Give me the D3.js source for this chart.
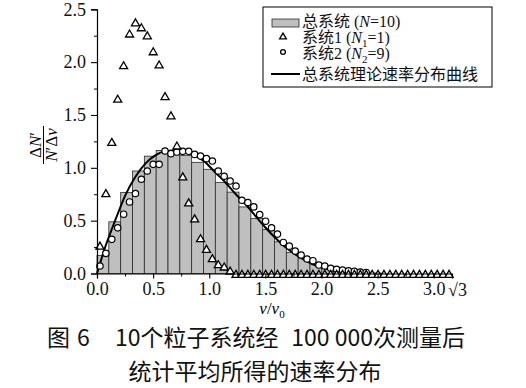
<!DOCTYPE html>
<html>
<head>
<meta charset="utf-8">
<script src="https://cdn.jsdelivr.net/npm/d3@7"></script>
<style>
  body { margin: 0; background: #fff; }
  svg { display: block; }
</style>
</head>
<body>
<svg id="chart" width="526" height="388"></svg>
<script>
// 30 histogram bins over [0, sqrt(10)] for the whole system (N=10)
const barVals = [0.17, 0.489, 0.766, 0.97, 1.11, 1.165, 1.16, 1.118, 1.052, 0.986,
  0.862, 0.77, 0.63, 0.52, 0.417, 0.30, 0.2, 0.148, 0.09, 0.054,
  0.033, 0.02, 0.011, 0.005, 0, 0, 0, 0, 0, 0];

// 60 finer bins: system 1 (triangles)
const sys1Vals = [0.253, 0.75, 1.234, 1.643, 1.96, 2.26, 2.366, 2.319, 2.243, 2.092,
  1.967, 1.668, 1.486, 1.2, 0.908, 0.662, 0.511, 0.323, 0.222, 0.134,
  0.077, 0.055, 0.017, 0, 0, 0, 0, 0, 0, 0,
  0, 0, 0, 0, 0, 0, 0, 0, 0, 0,
  0, 0, 0, 0, 0, 0, 0, 0, 0, 0,
  0, 0, 0, 0, 0, 0, 0, 0, 0, 0];

// system 2 (circles)
const sys2Vals = [0.071, 0.19, 0.323, 0.432, 0.561, 0.677, 0.757, 0.892, 0.97, 1.033,
  1.033, 1.159, 1.134, 1.149, 1.156, 1.156, 1.127, 1.111, 1.087, 1.064,
  0.97, 0.92, 0.875, 0.828, 0.693, 0.672, 0.63, 0.558, 0.495, 0.432,
  0.373, 0.294, 0.259, 0.212, 0.175, 0.137, 0.121, 0.08, 0.071, 0.049,
  0.04, 0.033, 0.026, 0.02, 0.014, 0.01];

// theoretical curve
const curveV = [0, 0.074, 0.163, 0.252, 0.341, 0.43, 0.519, 0.608, 0.697, 0.78,
  0.873, 0.962, 1.05, 1.14, 1.23, 1.318, 1.407, 1.496, 1.585, 1.674,
  1.763, 1.852, 1.94, 2.03, 2.12, 2.21, 2.3, 2.4];
const curveY = [0, 0.253, 0.505, 0.74, 0.913, 1.04, 1.118, 1.158, 1.165, 1.156,
  1.118, 1.055, 0.96, 0.866, 0.757, 0.662, 0.55, 0.44, 0.34, 0.253,
  0.184, 0.127, 0.08, 0.049, 0.026, 0.01, 0.003, 0];

const xTicks = [0, 0.5, 1.0, 1.5, 2.0, 2.5, 3.0];
const yTicks = [0, 0.5, 1.0, 1.5, 2.0, 2.5];
const vMax = Math.sqrt(10);

const serif = "'Liberation Serif', 'Times New Roman', serif";
const svg = d3.select("#chart");
const x = d3.scaleLinear().domain([0, vMax]).range([97, 452]);
const y = d3.scaleLinear().domain([0, 2.5]).range([273.5, 9.3]);

const barW = vMax / barVals.length;
const ptW = vMax / sys1Vals.length;

// bars
svg.append("g")
  .selectAll("rect")
  .data(barVals)
  .enter()
  .append("rect")
  .attr("x", (d, i) => x(i * barW))
  .attr("width", (d, i) => x((i + 1) * barW) - x(i * barW))
  .attr("y", d => y(d))
  .attr("height", d => y(0) - y(d))
  .attr("fill", "#bfbfbf")
  .attr("stroke", "#2a2a2a")
  .attr("stroke-width", 0.8);

// theory curve
const line = d3.line()
  .x((d, i) => x(curveV[i]))
  .y(d => y(d))
  .curve(d3.curveMonotoneX);
svg.append("path")
  .datum(curveY)
  .attr("d", line)
  .attr("fill", "none")
  .attr("stroke", "#000")
  .attr("stroke-width", 2);

// system 2 circles
svg.append("g")
  .selectAll("circle")
  .data(sys2Vals)
  .enter()
  .append("circle")
  .attr("cx", (d, i) => x((i + 0.5) * ptW))
  .attr("cy", d => y(d))
  .attr("r", 3.2)
  .attr("fill", "#fff")
  .attr("stroke", "#000")
  .attr("stroke-width", 1.2);

// system 1 triangles
const tri = d3.symbol(d3.symbolTriangle).size(28);
svg.append("g")
  .selectAll("path")
  .data(sys1Vals)
  .enter()
  .append("path")
  .attr("d", tri)
  .attr("transform", (d, i) => `translate(${x((i + 0.5) * ptW)},${d > 0 ? y(d) : y(0) + 1.5})`)
  .attr("fill", "#fff")
  .attr("stroke", "#000")
  .attr("stroke-width", 1.3);

// axes
const fmt = d3.format(".1f");
function styleAxis(g) {
  g.select(".domain").attr("stroke", "#000").attr("stroke-width", 1.2);
  g.selectAll(".tick line").attr("stroke", "#000").attr("stroke-width", 1.1);
  g.selectAll(".tick text")
    .style("font-family", serif)
    .style("font-size", "18px")
    .attr("fill", "#111");
}
svg.append("g")
  .attr("transform", `translate(${x(0)},0)`)
  .call(d3.axisLeft(y).tickValues(yTicks).tickSize(6).tickPadding(5).tickFormat(fmt))
  .call(styleAxis);
svg.append("g")
  .attr("transform", `translate(${x(0)},0)`)
  .call(d3.axisLeft(y).tickValues([0.25, 0.75, 1.25, 1.75, 2.25]).tickSize(3).tickFormat(""))
  .call(g => g.select(".domain").remove());

svg.append("g")
  .attr("transform", `translate(0,${y(0)})`)
  .call(d3.axisBottom(x).tickValues(xTicks).tickSize(5).tickPadding(4).tickFormat(fmt))
  .call(styleAxis);
svg.append("g")
  .attr("transform", `translate(0,${y(0)})`)
  .call(d3.axisBottom(x).tickValues([0.25, 0.75, 1.25, 1.75, 2.25, 2.75]).tickSize(3).tickFormat(""))
  .call(g => g.select(".domain").remove());

svg.append("text")
  .attr("x", 448)
  .attr("y", 296)
  .style("font-family", serif)
  .style("font-size", "18px")
  .attr("fill", "#111")
  .text("√3");

// axis titles
const xt = svg.append("text")
  .attr("x", 272)
  .attr("y", 314)
  .attr("text-anchor", "middle")
  .style("font-family", serif)
  .style("font-size", "17px");
xt.append("tspan").attr("font-style", "italic").text("v");
xt.append("tspan").text("/");
xt.append("tspan").attr("font-style", "italic").text("v");
xt.append("tspan").style("font-size", "11px").attr("dy", 4).text("0");

const yt = svg.append("g")
  .attr("transform", "translate(43.5,145) rotate(-90)")
  .style("font-family", serif)
  .style("font-size", "17px");
const num = yt.append("text").attr("text-anchor", "middle").attr("y", -3);
num.append("tspan").text("Δ");
num.append("tspan").attr("font-style", "italic").text("N");
num.append("tspan").text("′");
yt.append("line").attr("x1", -19).attr("x2", 19).attr("stroke", "#000").attr("stroke-width", 1);
const den = yt.append("text").attr("text-anchor", "middle").attr("y", 13);
den.append("tspan").attr("font-style", "italic").text("N");
den.append("tspan").text("′Δ");
den.append("tspan").attr("font-style", "italic").text("v");

// legend
const lg = svg.append("g")
  .style("font-family", serif + ", 'Noto Sans CJK SC'")
  .style("font-size", "16px")
  .attr("fill", "#111");
lg.append("rect")
  .attr("x", 263).attr("y", 7).attr("width", 229).attr("height", 80)
  .attr("fill", "#fff").attr("stroke", "#000").attr("stroke-width", 1);
lg.append("rect")
  .attr("x", 272).attr("y", 19).attr("width", 27).attr("height", 8)
  .attr("fill", "#bfbfbf").attr("stroke", "#2a2a2a").attr("stroke-width", 0.8);
lg.append("path").attr("d", d3.symbol(d3.symbolTriangle).size(20))
  .attr("transform", "translate(283,37)")
  .attr("fill", "#fff").attr("stroke", "#000").attr("stroke-width", 1.3);
lg.append("circle").attr("cx", 283).attr("cy", 52).attr("r", 2.4)
  .attr("fill", "#fff").attr("stroke", "#000").attr("stroke-width", 1.3);
lg.append("line").attr("x1", 271).attr("x2", 300).attr("y1", 74).attr("y2", 74)
  .attr("stroke", "#000").attr("stroke-width", 2);

function legendText(yy, parts) {
  const t = lg.append("text").attr("x", 302).attr("y", yy);
  parts.forEach(p => {
    const s = t.append("tspan").text(p.t);
    if (p.i) s.attr("font-style", "italic");
    if (p.sub) s.style("font-size", "11px").attr("dy", 4);
    if (p.up) s.attr("dy", -4);
  });
}
legendText(27, [{ t: "总系统 (" }, { t: "N", i: true }, { t: "=10)" }]);
legendText(43, [{ t: "系统1 (" }, { t: "N", i: true }, { t: "1", sub: true }, { t: "=1)", up: true }]);
legendText(59, [{ t: "系统2 (" }, { t: "N", i: true }, { t: "2", sub: true }, { t: "=9)", up: true }]);
legendText(80, [{ t: "总系统理论速率分布曲线" }]);

// caption
const cap = svg.append("g")
  .style("font-family", "'Noto Sans CJK SC', sans-serif")
  .style("font-size", "23px")
  .attr("fill", "#111");
const c1 = cap.append("text").attr("y", 346);
c1.append("tspan").attr("x", 47).text("图");
c1.append("tspan").attr("x", 77).text("6");
c1.append("tspan").attr("x", 115).text("10个粒子系统经");
cap.append("text").attr("x", 465).attr("y", 346).attr("text-anchor", "end")
  .text("100 000次测量后");
cap.append("text").attr("x", 255).attr("y", 380).attr("text-anchor", "middle")
  .text("统计平均所得的速率分布");
</script>
</body>
</html>
